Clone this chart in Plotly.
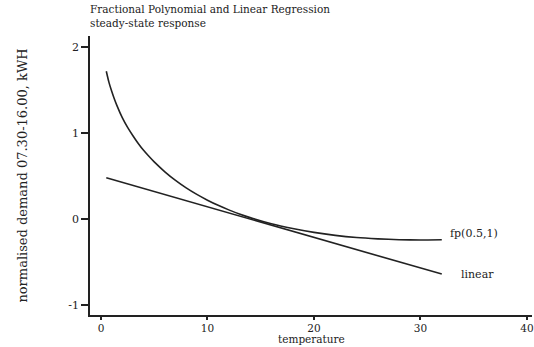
import plotly.graph_objects as go

temperature = [0.5, 0.75, 1, 1.25, 1.5, 2, 2.5, 3, 3.5, 4, 4.5, 5, 6, 7, 8, 9, 10, 11, 12, 13, 14, 16,
               18, 20, 22, 24, 26, 28, 30, 32]
fp_response = [1.72, 1.59, 1.49, 1.40, 1.32, 1.18, 1.067, 0.97, 0.88, 0.80, 0.73, 0.665, 0.55, 0.45,
               0.363, 0.287, 0.22, 0.16, 0.107, 0.059, 0.017, -0.055, -0.11, -0.155, -0.19, -0.215,
               -0.23, -0.24, -0.243, -0.24]
linear_x = [0.5, 32]
linear_y = [0.48, -0.64]
x_ticks = [0, 10, 20, 30, 40]
y_ticks = [-1, 0, 1, 2]
y_tick_text = ["-1", "0", "1", "2"]

serif = "DejaVu Serif"
ink = "#222222"

fig = go.Figure()
fig.add_trace(go.Scatter(x=temperature, y=fp_response, mode="lines",
                         line=dict(color=ink, width=1.6, shape="spline", smoothing=0.6),
                         showlegend=False))
fig.add_trace(go.Scatter(x=linear_x, y=linear_y, mode="lines",
                         line=dict(color=ink, width=1.6), showlegend=False))

fig.add_annotation(x=temperature[-1], y=fp_response[-1], text="fp(0.5,1)", showarrow=False,
                   xanchor="left", yanchor="bottom", xshift=6, yshift=-2,
                   font=dict(family=serif, size=11, color=ink))
fig.add_annotation(x=linear_x[-1], y=linear_y[-1], text="linear", showarrow=False,
                   xanchor="left", yanchor="middle", xshift=17, yshift=0,
                   font=dict(family=serif, size=11, color=ink))
fig.add_annotation(xref="paper", yref="paper", x=-0.005, y=1 + 35/279, xanchor="left",
                   yanchor="top", align="left", showarrow=False,
                   text="Fractional Polynomial and Linear Regression<br>steady-state response",
                   font=dict(family=serif, size=10.5, color=ink))
fig.add_annotation(xref="paper", yref="paper", x=0.5, y=-32/279, xanchor="center",
                   yanchor="bottom", showarrow=False, text="temperature",
                   font=dict(family=serif, size=10.5, color=ink))

fig.update_layout(
    width=534, height=347,
    margin=dict(l=90, r=0, t=36, b=32),
    paper_bgcolor="white", plot_bgcolor="white",
    xaxis=dict(range=[-1.03, 40.47], tickvals=x_ticks, showgrid=False, zeroline=False,
               showline=True, linecolor=ink, linewidth=1.5, ticks="outside", ticklen=3,
               tickcolor=ink, tickwidth=1.5, ticklabeloverflow="allow",
               tickfont=dict(family=serif, size=10.5, color=ink)),
    yaxis=dict(range=[-1.116, 2.13], tickvals=y_ticks, ticktext=y_tick_text, showgrid=False,
               zeroline=False, showline=True, linecolor=ink, linewidth=1.5, ticks="outside",
               ticklen=7, tickcolor=ink, tickwidth=1.5,
               tickfont=dict(family=serif, size=11, color=ink),
               title=dict(text="normalised demand 07.30-16.00, kWH", standoff=38,
                          font=dict(family=serif, size=13, color=ink))),
)

fig.write_html("out.html")
